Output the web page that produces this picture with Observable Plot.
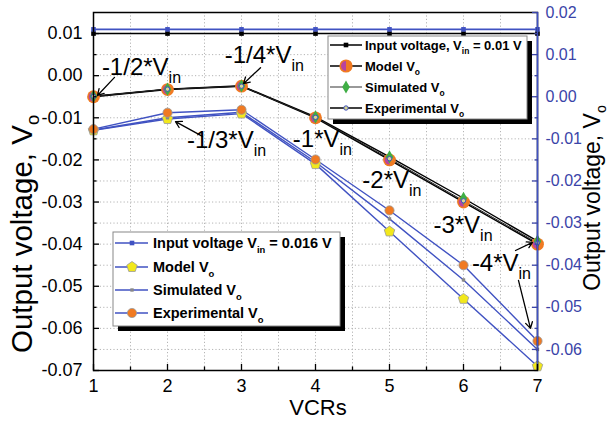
<!DOCTYPE html>
<html><head><meta charset="utf-8">
<script src="https://cdn.jsdelivr.net/npm/d3@7"></script>
<script src="https://cdn.jsdelivr.net/npm/@observablehq/plot@0.6"></script>
<style>
html,body{margin:0;padding:0;background:#fff;}
#chart{position:relative;width:609px;height:421px;}
</style></head><body><div id="chart"></div>
<script>
// ---------- data ----------
const vcr = [1, 2, 3, 4, 5, 6, 7];
// Set A: Vin = 0.01 V (left axis)
const inputA = [0.01, 0.01, 0.01, 0.01, 0.01, 0.01, 0.01];
const modelA = [-0.005, -0.0033, -0.0025, -0.01, -0.02, -0.03, -0.04];
const simA   = [-0.0049, -0.0032, -0.0024, -0.0098, -0.0193, -0.0291, -0.0393];
const expA   = [-0.0049, -0.0032, -0.0025, -0.0099, -0.0197, -0.0297, -0.0397];
// Set B: Vin = 0.016 V (right axis)
const inputB = [0.016, 0.016, 0.016, 0.016, 0.016, 0.016, 0.016];
const modelB = [-0.008, -0.0053, -0.004, -0.016, -0.032, -0.048, -0.064];
const simB   = [-0.0079, -0.005, -0.0037, -0.0155, -0.029, -0.0435, -0.060];
const expB   = [-0.0077, -0.0038, -0.0031, -0.0149, -0.027, -0.040, -0.058];
// axes
const xMajor = [1, 2, 3, 4, 5, 6, 7];
const xMinor = [1.5, 2.5, 3.5, 4.5, 5.5, 6.5];
const leftMajor = [-0.07, -0.06, -0.05, -0.04, -0.03, -0.02, -0.01, 0, 0.01];
const leftMinor = [-0.065, -0.055, -0.045, -0.035, -0.025, -0.015, -0.005, 0.005];
const rightMajor = [-0.06, -0.05, -0.04, -0.03, -0.02, -0.01, 0, 0.01, 0.02];
const rightMinor = [-0.055, -0.045, -0.035, -0.025, -0.015, -0.005, 0.005, 0.015];
const RIGHT_OFFSET = 0.005; // right-axis value = left-axis value + 0.005
// annotations
const labels = [
  {t: "-1/2*V", x: 1.12, y: 0.0},
  {t: "-1/4*V", x: 2.78, y: 0.0029},
  {t: "-1/3*V", x: 2.27, y: -0.0173},
  {t: "-1*V",   x: 3.70, y: -0.0171},
  {t: "-2*V",   x: 4.64, y: -0.0268},
  {t: "-3*V",   x: 5.60, y: -0.0375},
  {t: "-4*V",   x: 6.12, y: -0.0465}
];
const arrows = [
  {x1: 1.284, y1: -0.0004, x2: 1.054, y2: -0.0047},
  {x1: 3.257, y1: 0.0019, x2: 3.027, y2: -0.0019},
  {x1: 2.473, y1: -0.0144, x2: 2.108, y2: -0.0109},
  {x1: 6.703, y1: -0.0415, x2: 6.932, y2: -0.0396},
  {x1: 6.743, y1: -0.0486, x2: 6.905, y2: -0.0600}
];

// ---------- helpers ----------
const FONT = "'Liberation Sans', Arial, Helvetica, sans-serif";
const BLUE = "#4052c2";
const AXBLUE = "#3a44a8";
const ORANGE = "#f07a22";
const MAGENTA = "#b8449e";
const GREEN = "#3fae45";
const YELLOW = "#f2e81c";
const toLeft = v => v - RIGHT_OFFSET;
const rows = (ys, conv = v => v) => vcr.map((x, i) => ({x, y: conv(ys[i])}));
const fmt = v => { const s = (Math.round(v * 100) / 100).toFixed(2); return s === "-0.00" ? "0.00" : s; };

const halfLeft = {draw(ctx, size) { const r = Math.sqrt(size / Math.PI); ctx.moveTo(0, -r); ctx.arc(0, 0, r, -Math.PI / 2, Math.PI / 2, true); ctx.closePath(); }};
const pentagon = {draw(ctx, size) { const r = Math.sqrt(size / 2.378); for (let i = 0; i < 5; i++) { const a = -Math.PI / 2 + i * 2 * Math.PI / 5; const px = r * Math.cos(a), py = r * Math.sin(a); if (i) ctx.lineTo(px, py); else ctx.moveTo(px, py); } ctx.closePath(); }};

const gridStyle = {stroke: "#b5b5b5", strokeOpacity: 1, strokeDasharray: "1.2,2.2", strokeWidth: 1};
const blank = () => "";

const plot = Plot.plot({
  width: 609, height: 421,
  marginLeft: 93, marginRight: 72, marginTop: 12, marginBottom: 51,
  x: {domain: [1, 7]},
  y: {domain: [-0.07, 0.015]},
  style: {fontFamily: FONT, fontSize: "18px", color: "black", background: "white", overflow: "visible"},
  marks: [
    Plot.gridX([...xMajor, ...xMinor], gridStyle),
    Plot.gridY([...leftMajor, ...leftMinor], gridStyle),
    // input lines
    Plot.line(rows(inputA), {x: "x", y: "y", stroke: "black", strokeWidth: 1.6}),
    Plot.line(rows(inputB, toLeft), {x: "x", y: "y", stroke: BLUE, strokeWidth: 1.6}),
    // set B lines
    Plot.line(rows(modelB, toLeft), {x: "x", y: "y", stroke: BLUE, strokeWidth: 1.4}),
    Plot.line(rows(simB, toLeft), {x: "x", y: "y", stroke: BLUE, strokeWidth: 1.4}),
    Plot.line(rows(expB, toLeft), {x: "x", y: "y", stroke: BLUE, strokeWidth: 1.4}),
    // set A lines
    Plot.line(rows(modelA), {x: "x", y: "y", stroke: "black", strokeWidth: 1.5}),
    Plot.line(rows(simA), {x: "x", y: "y", stroke: "black", strokeWidth: 1.4}),
    Plot.line(rows(expA), {x: "x", y: "y", stroke: "#222", strokeWidth: 1}),
    // input markers
    Plot.dot(rows(inputA), {x: "x", y: "y", symbol: "square", r: 2.6, fill: "black"}),
    Plot.dot(rows(inputB, toLeft), {x: "x", y: "y", symbol: "square", r: 2.6, fill: BLUE}),
    // set B markers
    Plot.dot(rows(modelB, toLeft), {x: "x", y: "y", symbol: pentagon, r: 4.8, fill: YELLOW, stroke: "#999", strokeWidth: 0.8}),
    Plot.dot(rows(simB, toLeft), {x: "x", y: "y", symbol: "square", r: 1.9, fill: "#888"}),
    Plot.dot(rows(expB, toLeft), {x: "x", y: "y", r: 4.6, fill: ORANGE, stroke: "#999", strokeWidth: 0.8}),
    // set A markers
    Plot.dot(rows(modelA), {x: "x", y: "y", r: 6.4, fill: ORANGE}),
    Plot.dot(rows(modelA), {x: "x", y: "y", symbol: halfLeft, r: 4.8, fill: MAGENTA}),
    Plot.dot(rows(simA), {x: "x", y: "y", symbol: "diamond", r: 4, fill: GREEN}),
    Plot.dot(rows(expA), {x: "x", y: "y", r: 2.2, fill: "#d8d890", stroke: BLUE, strokeWidth: 1}),
    // frame
    Plot.frame({stroke: "black", strokeWidth: 1.5}),
    Plot.ruleX([7], {stroke: BLUE, strokeWidth: 1.6}),
    // arrows
    Plot.arrow(arrows, {x1: "x1", y1: "y1", x2: "x2", y2: "y2", stroke: "black", strokeWidth: 1.3, headLength: 8}),
    // axes
    Plot.axisX(xMajor, {tickSize: -6, tickFormat: blank, label: null, strokeWidth: 1.3}),
    Plot.axisX(xMinor, {tickSize: -3.5, tickFormat: blank, label: null, strokeWidth: 1.3}),
    Plot.axisX(xMajor, {tickSize: 0, tickPadding: 9, label: null, fontSize: 18, tickFormat: d => String(d)}),
    Plot.axisY(leftMajor, {anchor: "left", tickSize: -6, tickFormat: blank, label: null, strokeWidth: 1.3}),
    Plot.axisY(leftMinor, {anchor: "left", tickSize: -3.5, tickFormat: blank, label: null, strokeWidth: 1.3}),
    Plot.axisY(leftMajor, {anchor: "left", tickSize: 0, tickPadding: 11, label: null, fontSize: 18, tickFormat: fmt}),
    Plot.axisY(rightMajor.map(toLeft), {anchor: "right", tickSize: -6, tickFormat: blank, label: null, color: AXBLUE, strokeWidth: 1.3}),
    Plot.axisY(rightMinor.map(toLeft), {anchor: "right", tickSize: -3.5, tickFormat: blank, label: null, color: AXBLUE, strokeWidth: 1.3}),
    Plot.axisY(rightMajor.map(toLeft), {anchor: "right", tickSize: 0, tickPadding: 8, label: null, fontSize: 16, color: AXBLUE, tickFormat: d => fmt(d + RIGHT_OFFSET)})
  ]
});
document.getElementById("chart").appendChild(plot);

const svg = d3.select(plot);
const sx = plot.scale("x"), sy = plot.scale("y");

// annotation labels with subscripts
const ann = svg.append("g").attr("font-family", FONT).attr("fill", "black").attr("text-anchor", "start");
for (const l of labels) {
  const t = ann.append("text").attr("x", sx.apply(l.x)).attr("y", sy.apply(l.y)).attr("font-size", 24).attr("text-anchor", "start");
  t.append("tspan").text(l.t);
  t.append("tspan").attr("font-size", 16).attr("dy", 8).text("in");
}

// axis titles
function rotTitle(x, y, size, fill) {
  const t = svg.append("text").attr("transform", `translate(${x},${y}) rotate(-90)`).attr("text-anchor", "middle")
    .attr("font-family", FONT).attr("font-size", size).attr("fill", fill);
  t.append("tspan").text("Output voltage, V");
  t.append("tspan").attr("font-size", size * 0.62).attr("dy", size * 0.25).text("o");
}
rotTitle(32, 234, 29.5, "black");
rotTitle(600, 198, 23, "black");
svg.append("text").attr("x", 318).attr("y", 415).attr("text-anchor", "middle").attr("font-family", FONT)
  .attr("font-size", 22).text("VCRs");

// legends
function legend(box, rowsY, lineX, markX, textX, fontSize, items) {
  const g = svg.append("g").attr("font-family", FONT).attr("text-anchor", "start");
  g.append("rect").attr("x", box.x + 5).attr("y", box.y + 5).attr("width", box.w).attr("height", box.h).attr("fill", "black");
  g.append("rect").attr("x", box.x).attr("y", box.y).attr("width", box.w).attr("height", box.h).attr("fill", "white").attr("stroke", "#888").attr("stroke-width", 1);
  items.forEach((it, i) => {
    const y = rowsY[i];
    g.append("line").attr("x1", lineX[0]).attr("x2", lineX[1]).attr("y1", y).attr("y2", y).attr("stroke", it.line).attr("stroke-width", 1.5);
    for (const m of it.marks) {
      g.append("path").attr("transform", `translate(${markX},${y})`)
        .attr("d", d3.symbol(m.sym, Math.PI * m.r * m.r)()).attr("fill", m.fill).attr("stroke", m.stroke || "none").attr("stroke-width", m.sw || 0);
    }
    const t = g.append("text").attr("x", textX).attr("y", y + fontSize * 0.36).attr("font-size", fontSize).attr("font-weight", "bold").attr("text-anchor", "start");
    t.append("tspan").text(it.text);
    t.append("tspan").attr("font-size", fontSize * 0.65).attr("dy", fontSize * 0.35).text(it.sub);
    if (it.after) t.append("tspan").attr("dy", -fontSize * 0.35).attr("font-size", fontSize).text(it.after);
  });
}
legend({x: 328, y: 36, w: 199, h: 83}, [45, 66, 87, 108], [330, 362], 346, 365, 13, [
  {line: "black", marks: [{sym: d3.symbolSquare, r: 2.6, fill: "black"}], text: "Input voltage, V", sub: "in", after: " = 0.01 V"},
  {line: "black", marks: [{sym: d3.symbolCircle, r: 6.6, fill: ORANGE}, {sym: halfLeft, r: 5, fill: MAGENTA}], text: "Model V", sub: "o"},
  {line: "#777", marks: [{sym: d3.symbolDiamond, r: 4, fill: GREEN}], text: "Simulated V", sub: "o"},
  {line: "black", marks: [{sym: d3.symbolCircle, r: 2.2, fill: "#d8d890", stroke: BLUE, sw: 1}], text: "Experimental V", sub: "o"}
]);
legend({x: 113, y: 232, w: 227, h: 94}, [243, 267, 290, 313], [115, 148], 132, 153, 14.5, [
  {line: BLUE, marks: [{sym: d3.symbolSquare, r: 2.6, fill: BLUE}], text: "Input voltage V", sub: "in", after: " = 0.016 V"},
  {line: BLUE, marks: [{sym: pentagon, r: 4.8, fill: YELLOW, stroke: "#999", sw: 0.8}], text: "Model V", sub: "o"},
  {line: BLUE, marks: [{sym: d3.symbolSquare, r: 1.9, fill: "#888"}], text: "Simulated V", sub: "o"},
  {line: BLUE, marks: [{sym: d3.symbolCircle, r: 4.6, fill: ORANGE, stroke: "#999", sw: 0.8}], text: "Experimental V", sub: "o"}
]);
</script>
</body></html>
